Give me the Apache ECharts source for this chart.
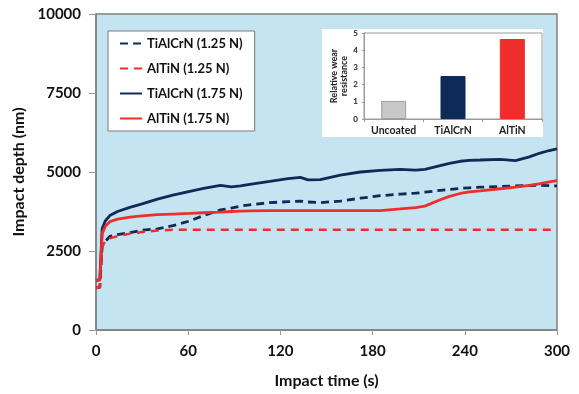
<!DOCTYPE html>
<html>
<head>
<meta charset="utf-8">
<script src="https://cdn.jsdelivr.net/npm/echarts@6/dist/echarts.min.js"></script>
<style>
  html, body { margin: 0; padding: 0; background: #fff; }
  #main { width: 579px; height: 394px; }
</style>
</head>
<body>
<div id="main"></div>
<script>
// impact time (s) sample points shared by all curves
var times = [0, 2.5, 4, 6, 9, 14, 22, 30, 40, 50, 61, 70, 81, 88, 94, 100, 113, 125, 133, 138, 146, 159, 172, 185, 198, 208, 214, 224, 230, 237, 243, 250, 263, 273, 282, 289, 295, 300];

// impact depth (nm)
var tiAlCrN125 = [1330, 1350, 2650, 2800, 2960, 3020, 3080, 3160, 3200, 3300, 3450, 3620, 3800, 3860, 3920, 3960, 4030, 4060, 4080, 4050, 4030, 4080, 4170, 4250, 4300, 4330, 4360, 4420, 4450, 4480, 4500, 4520, 4540, 4560, 4570, 4580, 4570, 4560];
var alTiN125 = [1330, 1350, 2650, 2800, 2900, 2970, 3050, 3100, 3150, 3170, 3170, 3170, 3170, 3170, 3170, 3170, 3170, 3170, 3170, 3170, 3170, 3170, 3170, 3170, 3170, 3170, 3170, 3170, 3170, 3170, 3170, 3170, 3170, 3170, 3170, 3170, 3170, 3170];
var tiAlCrN175 = [1560, 1600, 3200, 3450, 3620, 3750, 3880, 3990, 4140, 4270, 4390, 4480, 4580, 4530, 4560, 4610, 4700, 4790, 4830, 4750, 4760, 4900, 5000, 5050, 5080, 5060, 5080, 5200, 5270, 5340, 5370, 5380, 5400, 5360, 5480, 5600, 5680, 5730];
var alTiN175 = [1560, 1580, 3050, 3280, 3430, 3510, 3570, 3610, 3650, 3670, 3690, 3710, 3730, 3750, 3760, 3770, 3780, 3780, 3780, 3780, 3780, 3780, 3780, 3780, 3830, 3870, 3920, 4120, 4230, 4320, 4370, 4400, 4470, 4520, 4580, 4630, 4690, 4730];

// inset: relative wear resistance
var coatings = ['Uncoated', 'TiAlCrN', 'AlTiN'];
var wearResistance = [1.05, 2.5, 4.65];

var navy = '#0e2a56';
var red = '#ef2d2b';
var font = 'Lato';

function pairs(vals) {
  return times.map(function (t, i) { return [t, vals[i]]; });
}

var chart = echarts.init(document.getElementById('main'));

var option = {
  animation: false,
  textStyle: { fontFamily: font },
  graphic: [{
    type: 'rect',
    z: 1,
    shape: { x: 322, y: 29, width: 221, height: 108 },
    style: { fill: '#ffffff' }
  }],
  grid: [
    {
      left: 96, right: 22, top: 14, bottom: 59,
      show: true, backgroundColor: '#c5e4f2',
      borderColor: '#808080', borderWidth: 1.5
    },
    {
      left: 364, top: 33, width: 178, height: 86,
      show: true, backgroundColor: '#ffffff',
      borderColor: '#9a9a9a', borderWidth: 1, z: 3
    }
  ],
  legend: {
    orient: 'vertical',
    left: 108, top: 31,
    padding: [6, 12, 6, 11],
    itemWidth: 22, itemHeight: 10, itemGap: 12,
    backgroundColor: '#ffffff',
    borderColor: '#7a7a7a', borderWidth: 1,
    itemStyle: { opacity: 0 },
    textStyle: { fontFamily: font, fontWeight: 'bold', fontSize: 13, color: '#111' },
    data: ['TiAlCrN (1.25 N)', 'AlTiN (1.25 N)', 'TiAlCrN (1.75 N)', 'AlTiN (1.75 N)']
  },
  xAxis: [
    {
      type: 'value', gridIndex: 0, min: 0, max: 300, interval: 60,
      name: 'Impact time (s)', nameLocation: 'middle', nameGap: 43,
      nameTextStyle: { fontFamily: font, fontWeight: 'bold', fontSize: 16, color: '#111' },
      axisLine: { show: true, lineStyle: { color: '#808080', width: 1.5 } },
      axisTick: { show: true, length: 5, lineStyle: { color: '#9a9a9a' } },
      axisLabel: { fontFamily: font, fontWeight: 'bold', fontSize: 15, color: '#111', margin: 14 },
      splitLine: { show: false }
    },
    {
      type: 'category', gridIndex: 1, data: coatings,
      axisLine: { show: true, lineStyle: { color: '#9a9a9a' } },
      axisTick: { show: true, length: 3, lineStyle: { color: '#9a9a9a' } },
      axisLabel: { interval: 0, hideOverlap: false, fontFamily: font, fontWeight: 'bold', fontSize: 10.5, color: '#222', margin: 6 },
      z: 3
    }
  ],
  yAxis: [
    {
      type: 'value', gridIndex: 0, min: 0, max: 10000, interval: 2500,
      name: 'Impact depth (nm)', nameLocation: 'middle', nameGap: 57,
      nameTextStyle: { fontFamily: font, fontWeight: 'bold', fontSize: 16, color: '#111' },
      axisLine: { show: true, lineStyle: { color: '#808080', width: 1.5 } },
      axisTick: { show: true, length: 7, lineStyle: { color: '#9a9a9a' } },
      axisLabel: {
        fontFamily: font, fontWeight: 'bold', fontSize: 15, color: '#111', margin: 15,
        formatter: function (v) { return String(v); }
      },
      splitLine: { show: false }
    },
    {
      type: 'value', gridIndex: 1, min: 0, max: 5, interval: 1,
      name: 'Relative wear\nresistance', nameLocation: 'middle', nameGap: 15,
      nameTextStyle: { fontFamily: font, fontWeight: 'bold', fontSize: 9, color: '#222', lineHeight: 10 },
      axisLine: { show: true, lineStyle: { color: '#9a9a9a' } },
      axisTick: { show: true, length: 2, lineStyle: { color: '#9a9a9a' } },
      axisLabel: { fontFamily: font, fontWeight: 'bold', fontSize: 8, color: '#222', margin: 6 },
      splitLine: { show: false },
      z: 3
    }
  ],
  series: [
    {
      name: 'TiAlCrN (1.25 N)', type: 'line', xAxisIndex: 0, yAxisIndex: 0,
      data: pairs(tiAlCrN125), showSymbol: false, symbol: 'none',
      color: navy, lineStyle: { color: navy, width: 2.8, type: [8, 5] }
    },
    {
      name: 'AlTiN (1.25 N)', type: 'line', xAxisIndex: 0, yAxisIndex: 0,
      data: pairs(alTiN125), showSymbol: false, symbol: 'none',
      color: red, lineStyle: { color: red, width: 2.5, type: [8, 6] }
    },
    {
      name: 'TiAlCrN (1.75 N)', type: 'line', xAxisIndex: 0, yAxisIndex: 0,
      data: pairs(tiAlCrN175), showSymbol: false, symbol: 'none',
      color: navy, lineStyle: { color: navy, width: 2.8 }
    },
    {
      name: 'AlTiN (1.75 N)', type: 'line', xAxisIndex: 0, yAxisIndex: 0,
      data: pairs(alTiN175), showSymbol: false, symbol: 'none',
      color: red, lineStyle: { color: red, width: 2.8 }
    },
    {
      type: 'bar', xAxisIndex: 1, yAxisIndex: 1, barWidth: 25, z: 4,
      data: wearResistance.map(function (v, i) {
        var fills = ['#c8c8c8', navy, red];
        return {
          value: v,
          itemStyle: { color: fills[i], borderColor: i === 0 ? '#a0a0a0' : fills[i], borderWidth: 1 }
        };
      })
    }
  ]
};

chart.setOption(option);
</script>
</body>
</html>
